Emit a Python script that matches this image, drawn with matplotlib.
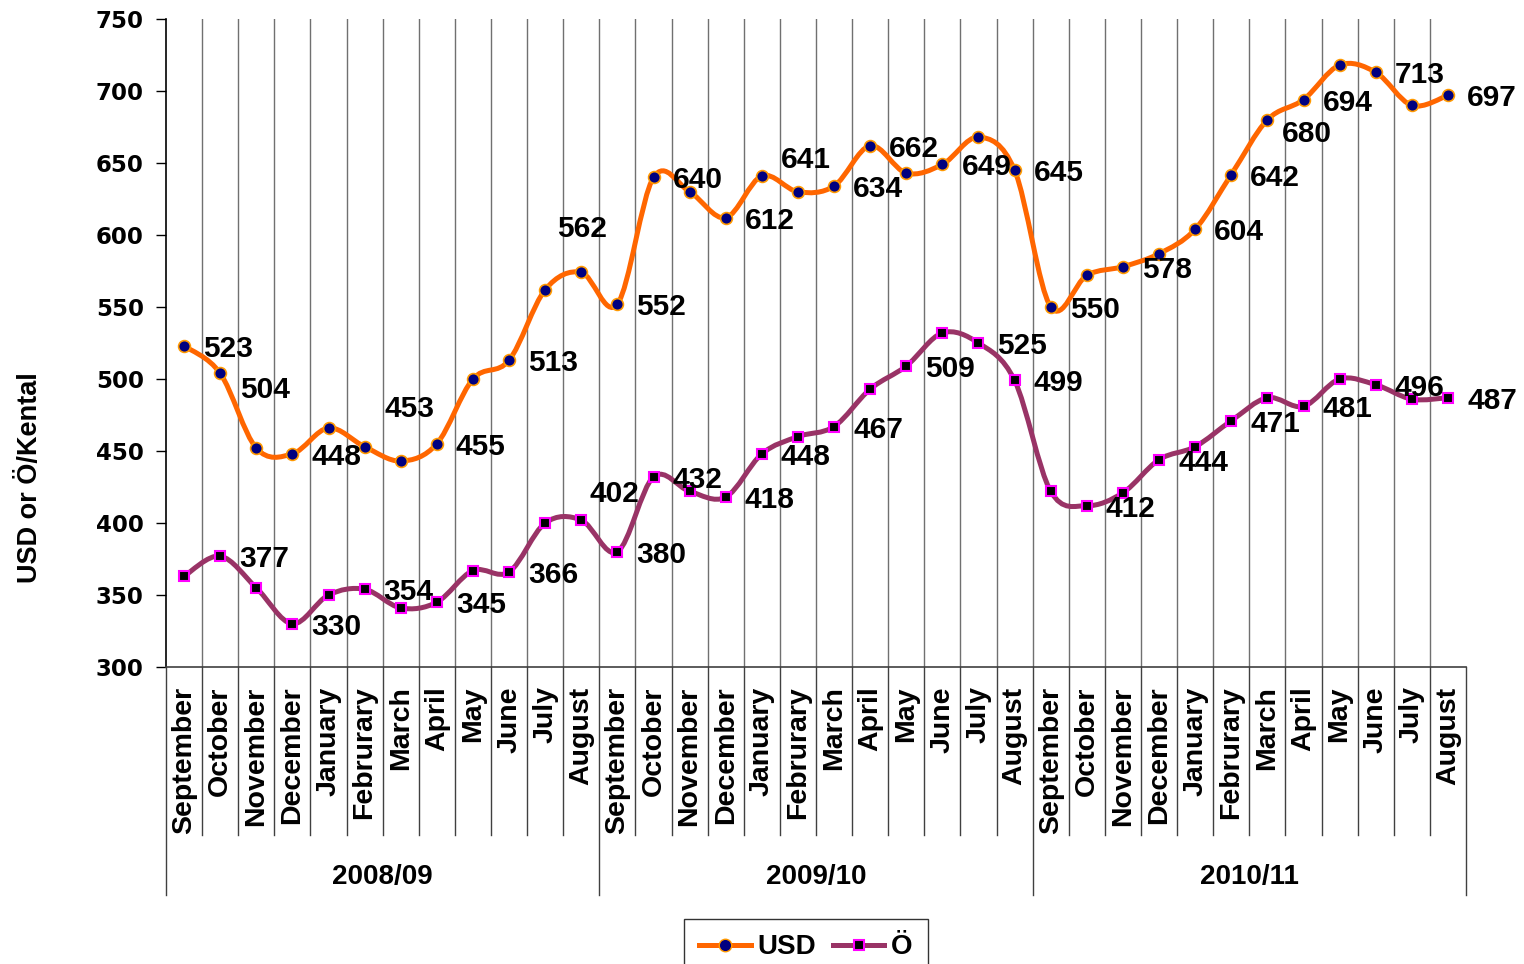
import numpy as np
import matplotlib
matplotlib.use('Agg') # no display here
import matplotlib.pyplot as plt
from matplotlib.path import Path
from matplotlib.patches import PathPatch
from matplotlib.lines import Line2D

months = ["September", "October", "November", "December", "January", "Februrary",
          "March", "April", "May", "June", "July", "August"] * 3
seasons = ["2008/09", "2009/10", "2010/11"]

usd = [523, 504, 452, 448, 466, 453, 443, 455, 500, 513, 562, 574,
       552, 640, 630, 612, 641, 630, 634, 662, 643, 649, 668, 645,
       550, 572, 578, 587, 604, 642, 680, 694, 718, 713, 690, 697]
oe = [363, 377, 355, 330, 350, 354, 341, 345, 367, 366, 400, 402,
      380, 432, 422, 418, 448, 460, 467, 493, 509, 532, 525, 499,
      422, 412, 421, 444, 453, 471, 487, 481, 500, 496, 486, 487]

# which points carry a value label
usd_labeled = [0, 1, 3, 5, 7, 9, 10, 12, 13, 15, 16, 18, 19, 21, 23, 24, 26, 28, 29, 30, 31, 33, 35]
oe_labeled = [1, 3, 5, 7, 9, 11, 12, 13, 15, 16, 18, 20, 22, 23, 25, 27, 29, 31, 33, 35]

FONT = 'Liberation Sans'
plt.rcParams['font.family'] = [FONT, 'DejaVu Sans']
plt.rcParams['font.weight'] = 'bold'


def smooth_path(x, y):
    # excel style smoothed line: cubic bezier through every point
    pts = np.column_stack([x, y]).astype(float)
    n = len(pts)
    verts = [pts[0]]
    codes = [Path.MOVETO]
    for i in range(n - 1):
        p0 = pts[i - 1] if i > 0 else pts[i]
        p1 = pts[i]
        p2 = pts[i + 1]
        p3 = pts[i + 2] if i + 2 < n else pts[i + 1]
        c1 = p1 + (p2 - p0) / 6.0
        c2 = p2 - (p3 - p1) / 6.0
        verts += [c1, c2, p2]
        codes += [Path.CURVE4] * 3
    return Path(verts, codes)


def add_labels(ax, vals, idx, offsets):
    for i in idx:
        dx, dy = offsets.get(i, (44, -3))
        ax.annotate(str(vals[i]), (i, vals[i]), xytext=(dx, dy), textcoords='offset pixels',
                    ha='center', va='center', fontsize=21.5, fontweight='bold', color='black',
                    zorder=6)


fig = plt.figure(figsize=(15.24, 9.64), dpi=100)
ax = fig.add_axes([166 / 1524, 1 - 667 / 964, 1300 / 1524, 648 / 964])

x = np.arange(len(usd))
ax.add_patch(PathPatch(smooth_path(x, usd), facecolor='none', edgecolor='#FF6600', lw=3.6, zorder=3))
ax.add_patch(PathPatch(smooth_path(x, oe), facecolor='none', edgecolor='#993366', lw=3.6, zorder=3))
ax.plot(x, usd, ls='none', marker='o', ms=8.5, mfc='#000080', mec='#FF9900', mew=1.2, zorder=4)
ax.plot(x, oe, ls='none', marker='s', ms=6.5, mfc='black', mec='#FF00FF', mew=1.5, zorder=4)

add_labels(ax, usd, usd_labeled, {1: (45, -17), 5: (45, 38), 10: (37, 61), 16: (44, 16), 30: (39, -14)})
add_labels(ax, oe, oe_labeled, {11: (33, 26)})

ax.set_xlim(-0.5, len(usd) - 0.5)
ax.set_ylim(300, 750)
ax.set_yticks(np.arange(300, 751, 50))
ax.tick_params(axis='y', direction='out', length=7, width=1, pad=9)
for t in ax.get_yticklabels():
    t.set_fontfamily('DejaVu Sans')
    t.set_fontweight('bold')
    t.set_fontsize(16.5)

# vertical grid at category borders
for b in np.arange(0.5, len(usd) - 1, 1.0):
    ax.axvline(b, color='#707070', lw=1, zorder=1)

for s in ['top', 'right']:
    ax.spines[s].set_visible(False)
ax.spines['left'].set_linewidth(1.2)
ax.spines['bottom'].set_linewidth(1.2)
ax.spines['bottom'].set_color('#404040')

ax.set_xticks(x)
ax.set_xticklabels(months, rotation=90, va='top', ha='center', fontsize=20.5, fontweight='bold')
ax.tick_params(axis='x', length=0, pad=14)

# category separators below the axis
trans = ax.get_xaxis_transform()
for b in np.arange(-0.5, len(usd), 1.0):
    bottom = -0.352 if (b + 0.5) % 12 == 0 else -0.259
    ax.plot([b, b], [0, bottom], transform=trans, color='#404040', lw=1, clip_on=False)
for k, s in enumerate(seasons):
    ax.text(k * 12 + 5.5, -0.324, s, transform=trans, ha='center', va='center',
            fontsize=20, fontweight='bold')

fig.text(30 / 1524, 1 - 478 / 964, "USD or Ö/Kental", rotation=90, ha='center', va='center',
         fontsize=19.5, fontweight='bold')

handles = [Line2D([], [], color='#FF6600', lw=3.6, marker='o', ms=9, mfc='#000080', mec='#FF9900'),
           Line2D([], [], color='#993366', lw=3.6, marker='s', ms=7, mfc='black', mec='#FF00FF', mew=1.5)]
leg = fig.legend(handles, ["USD", "Ö"], loc='upper center', bbox_to_anchor=(806 / 1524, 1 - 919 / 964),
                 borderaxespad=0, ncol=2, frameon=True, fancybox=False, edgecolor='black',
                 handlelength=1.85, handletextpad=0.25, columnspacing=0.6, borderpad=0.55,
                 prop={'weight': 'bold', 'size': 20})
leg.get_frame().set_linewidth(1)

fig.savefig('out.png', dpi=100)
